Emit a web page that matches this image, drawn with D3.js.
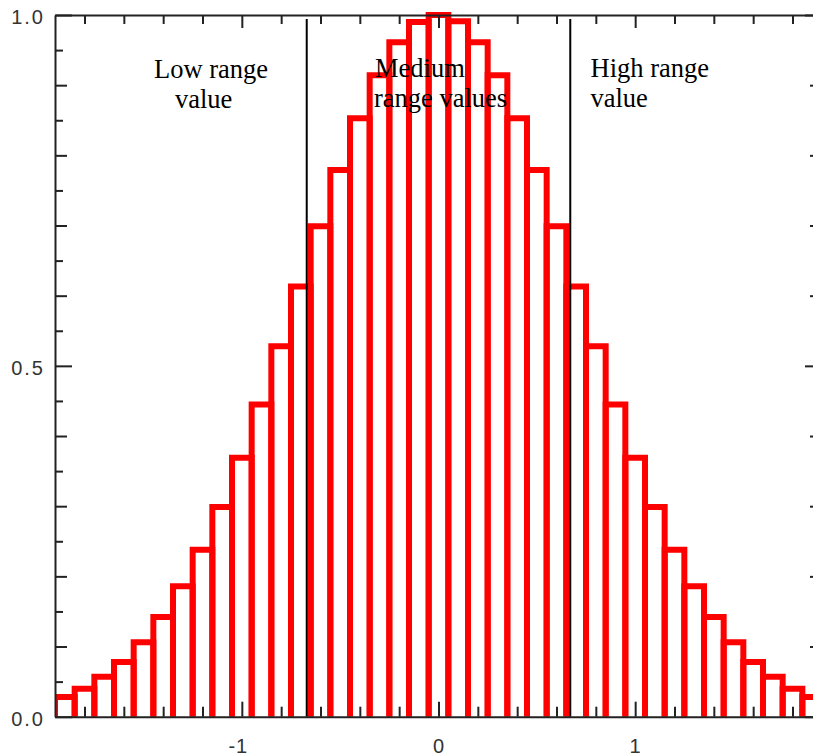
<!DOCTYPE html>
<html><head><meta charset="utf-8">
<script src="https://cdn.jsdelivr.net/npm/d3@7"></script>
<style>
html,body{margin:0;padding:0;background:#fff;}
svg{display:block;}
</style></head><body>
<svg id="chart" width="813" height="756"></svg>
<script>
// ---- data ----
const binCenters = [-1.9,-1.8,-1.7,-1.6,-1.5,-1.4,-1.3,-1.2,-1.1,-1.0,-0.9,-0.8,-0.7,-0.6,-0.5,-0.4,-0.3,-0.2,-0.1,0,
                     0.1,0.2,0.3,0.4,0.5,0.6,0.7,0.8,0.9,1.0,1.1,1.2,1.3,1.4,1.5,1.6,1.7,1.8,1.9];
const binValues  = [0.028,0.040,0.057,0.078,0.106,0.142,0.186,0.238,0.299,0.369,0.445,0.528,0.613,0.699,0.779,0.853,0.914,0.961,0.990,1.000,
                     0.991,0.961,0.914,0.853,0.779,0.699,0.613,0.528,0.445,0.369,0.299,0.238,0.186,0.142,0.106,0.078,0.057,0.040,0.028];
const binWidth = 0.1;
const rangeBoundaries = [-0.67, 0.67];
const regionLabels = [["Low range", "value"], ["Medium", "range values"], ["High range", "value"]];
const xMajorTicks = [-1, 0, 1];
const xMinorTicks = [-1.8,-1.6,-1.4,-1.2,-0.8,-0.6,-0.4,-0.2,0.2,0.4,0.6,0.8,1.2,1.4,1.6,1.8];
const xTickLabels = ["-1", "0", "1"];
const yMajorTicks = [0, 0.5, 1];
const yMidTicks = [0.1,0.2,0.3,0.4,0.6,0.7,0.8,0.9];
const yMinorTicks = [0.05,0.15,0.25,0.35,0.45,0.55,0.65,0.75,0.85,0.95];
const yTickLabels = ["0.0", "0.5", "1.0"];
const xDomain = [-1.95, 1.95];
const yDomain = [0, 1];

// ---- layout ----
const L = 55, R = 822, T = 15, B = 716.7;
const svg = d3.select("#chart");
const x = d3.scaleLinear().domain(xDomain).range([L, R]);
const y = d3.scaleLinear().domain(yDomain).range([B, T]);

svg.append("defs").append("clipPath").attr("id", "plotclip")
  .append("rect").attr("x", L).attr("y", 0).attr("width", R - L).attr("height", B);

// bars (step outlines)
const bars = binCenters.map((c, i) => ({c, v: binValues[i]}));
svg.append("g").attr("clip-path", "url(#plotclip)")
  .selectAll("path").data(bars).join("path")
  .attr("d", d => {
    const x0 = x(d.c - binWidth / 2), x1 = x(d.c + binWidth / 2);
    return `M${x0},${y(0)}V${y(d.v)}H${x1}V${y(0)}`;
  })
  .attr("fill", "none")
  .attr("stroke", "#ff0000")
  .attr("stroke-width", 6)
  .attr("stroke-linejoin", "miter");

// range boundary lines
svg.append("g").selectAll("line").data(rangeBoundaries).join("line")
  .attr("x1", d => x(d)).attr("x2", d => x(d))
  .attr("y1", T + 4).attr("y2", B)
  .attr("stroke", "#000").attr("stroke-width", 2);

// axes
const axisColor = "#222";
function styleAxis(g, keepDomain) {
  if (!keepDomain) g.select(".domain").remove();
  g.select(".domain").attr("stroke", axisColor).attr("stroke-width", 2);
  g.selectAll(".tick line").attr("stroke", axisColor).attr("stroke-width", 2);
}
// bottom
const gb = svg.append("g").attr("transform", `translate(0,${B})`);
gb.append("g").call(d3.axisTop(x).tickValues(xMinorTicks).tickSize(10).tickSizeOuter(0).tickFormat(""))
  .call(g => styleAxis(g, true));
gb.append("g").call(d3.axisTop(x).tickValues(xMajorTicks).tickSize(15).tickFormat(""))
  .call(g => styleAxis(g, false));
const xl = gb.append("g").call(d3.axisBottom(x).tickValues(xMajorTicks).tickSize(0)
  .tickFormat((d, i) => xTickLabels[i]));
xl.select(".domain").remove();
xl.selectAll("text").attr("y", 36.5).attr("dy", null)
  .attr("dx", (d, i) => xTickLabels[i].startsWith("-") ? -4 : 0)
  .style("font-family", "'Liberation Sans', Arial, sans-serif").style("font-size", "20px")
  .style("letter-spacing", "1px").attr("fill", "#333");
// top
const gt = svg.append("g").attr("transform", `translate(0,${T})`);
gt.append("g").call(d3.axisBottom(x).tickValues(xMinorTicks).tickSize(9).tickSizeOuter(0).tickFormat(""))
  .call(g => styleAxis(g, true));
gt.append("g").call(d3.axisBottom(x).tickValues(xMajorTicks).tickSize(13).tickFormat(""))
  .call(g => styleAxis(g, false));
// left
const gl = svg.append("g").attr("transform", `translate(${L},0)`);
gl.append("g").call(d3.axisRight(y).tickValues(yMinorTicks).tickSize(8).tickSizeOuter(0).tickFormat(""))
  .call(g => styleAxis(g, true));
gl.append("g").call(d3.axisRight(y).tickValues(yMidTicks).tickSize(12).tickFormat(""))
  .call(g => styleAxis(g, false));
gl.append("g").call(d3.axisRight(y).tickValues(yMajorTicks).tickSize(17).tickFormat(""))
  .call(g => styleAxis(g, false));
const yl = gl.append("g").call(d3.axisLeft(y).tickValues(yMajorTicks).tickSize(0).tickPadding(10)
  .tickFormat((d, i) => yTickLabels[i]));
yl.select(".domain").remove();
yl.selectAll("text").attr("dy", "0.43em")
  .style("font-family", "'Liberation Sans', Arial, sans-serif").style("font-size", "20px")
  .style("letter-spacing", "2px").attr("fill", "#333");
// right
const gr = svg.append("g").attr("transform", `translate(${R},0)`);
gr.append("g").call(d3.axisLeft(y).tickValues(yMinorTicks).tickSize(8).tickSizeOuter(0).tickFormat(""))
  .call(g => styleAxis(g, true));
gr.append("g").call(d3.axisLeft(y).tickValues(yMidTicks).tickSize(12).tickFormat(""))
  .call(g => styleAxis(g, false));
gr.append("g").call(d3.axisLeft(y).tickValues(yMajorTicks).tickSize(17).tickFormat(""))
  .call(g => styleAxis(g, false));

// region annotations
const labelPlacement = [
  [{x: 154, y: 78}, {x: 175, y: 108}],
  [{x: 375, y: 77}, {x: 374, y: 107}],
  [{x: 590.5, y: 77}, {x: 590.5, y: 107}]
];
const ga = svg.append("g")
  .style("font-family", "'Liberation Serif', 'Times New Roman', serif")
  .style("font-size", "26.5px").attr("fill", "#000");
regionLabels.forEach((lines, i) => {
  lines.forEach((t, j) => {
    ga.append("text").attr("x", labelPlacement[i][j].x).attr("y", labelPlacement[i][j].y).text(t);
  });
});
</script>
</body></html>
